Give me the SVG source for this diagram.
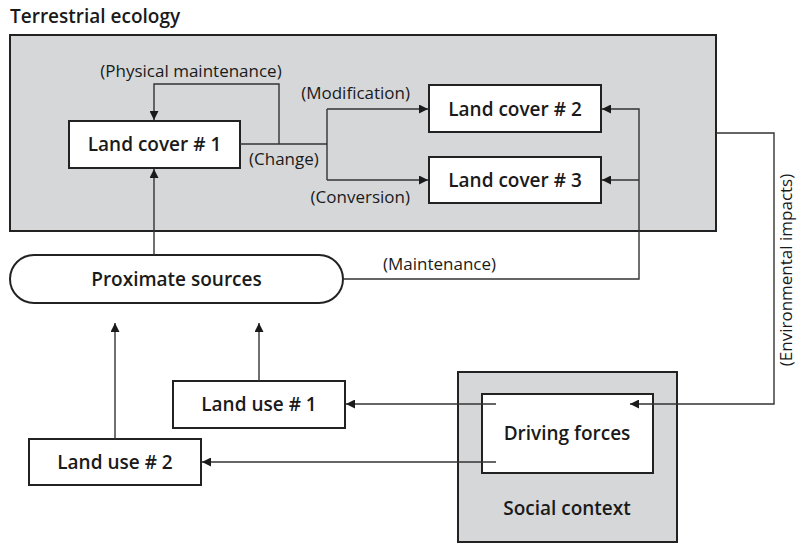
<svg xmlns="http://www.w3.org/2000/svg" width="802" height="544" viewBox="0 0 802 544">
<defs>
<marker id="arr" viewBox="0 0 10 10" refX="10" refY="5" markerWidth="9" markerHeight="9" markerUnits="userSpaceOnUse" orient="auto">
<path d="M0,0 L10,5 L0,10 Z" fill="#1a1a1a"/>
</marker>
<style>
.ctx{fill:#d6d7d9;stroke:#222;stroke-width:2}
.box{fill:#fff;stroke:#222;stroke-width:2}
.ln{fill:none;stroke:#333;stroke-width:1.4}
.nt{font-family:"Open Sans","Noto Sans",sans-serif;font-weight:600;font-size:19px;fill:#1a1a1a;text-anchor:middle}
.lb{font-family:"Open Sans","Noto Sans",sans-serif;font-size:17px;fill:#1a1a1a}
</style>
</defs>
<rect width="802" height="544" fill="#fff"/>
<g id="terrestrial-ecology">
<rect class="ctx" x="10" y="35" width="706" height="196"/>
<text class="nt" x="10" y="23" style="text-anchor:start">Terrestrial ecology</text>
</g>
<g id="social-context">
<rect class="ctx" x="458" y="372" width="219" height="170"/>
<text class="nt" x="567" y="515">Social context</text>
</g>
<g id="land-cover-1">
<rect class="box" x="69" y="121" width="171" height="47"/>
<text class="nt" x="154.5" y="151">Land cover # 1</text>
</g>
<g id="land-cover-2">
<rect class="box" x="429" y="85" width="172" height="47"/>
<text class="nt" x="515" y="115.5">Land cover # 2</text>
</g>
<g id="land-cover-3">
<rect class="box" x="429" y="157" width="172" height="46"/>
<text class="nt" x="515" y="187">Land cover # 3</text>
</g>
<g id="proximate-sources">
<rect class="box" x="10" y="255" width="333" height="48" rx="24" ry="24"/>
<text class="nt" x="176.5" y="286">Proximate sources</text>
</g>
<g id="land-use-1">
<rect class="box" x="173" y="381" width="172" height="47"/>
<text class="nt" x="259" y="411">Land use # 1</text>
</g>
<g id="land-use-2">
<rect class="box" x="29" y="439" width="172" height="46"/>
<text class="nt" x="115" y="469">Land use # 2</text>
</g>
<g id="driving-forces">
<rect class="box" x="482" y="394" width="171" height="79"/>
<text class="nt" x="567" y="440">Driving forces</text>
</g>
<g id="connectors">
<path class="ln" d="M279,144 V84 H154 V120" marker-end="url(#arr)"/>
<path class="ln" d="M240,144 H327"/>
<path class="ln" d="M327,109 V180"/>
<path class="ln" d="M327,109 H428" marker-end="url(#arr)"/>
<path class="ln" d="M327,180 H428" marker-end="url(#arr)"/>
<path class="ln" d="M343,279 H639 V109 H602" marker-end="url(#arr)"/>
<path class="ln" d="M639,180 H602" marker-end="url(#arr)"/>
<path class="ln" d="M154,255 V169" marker-end="url(#arr)"/>
<path class="ln" d="M716,133 H774 V404 H630" marker-end="url(#arr)"/>
<path class="ln" d="M115,439 V323" marker-end="url(#arr)"/>
<path class="ln" d="M259,381 V323" marker-end="url(#arr)"/>
<path class="ln" d="M496,404 H346" marker-end="url(#arr)"/>
<path class="ln" d="M496,462 H202" marker-end="url(#arr)"/>
<text class="lb" x="191" y="77" text-anchor="middle">(Physical maintenance)</text>
<text class="lb" x="410" y="99" text-anchor="end">(Modification)</text>
<text class="lb" x="249" y="165">(Change)</text>
<text class="lb" x="410" y="203" text-anchor="end">(Conversion)</text>
<text class="lb" x="383" y="270">(Maintenance)</text>
<text class="lb" x="0" y="0" text-anchor="middle" transform="translate(792,270) rotate(-90)">(Environmental impacts)</text>
</g>
</svg>
